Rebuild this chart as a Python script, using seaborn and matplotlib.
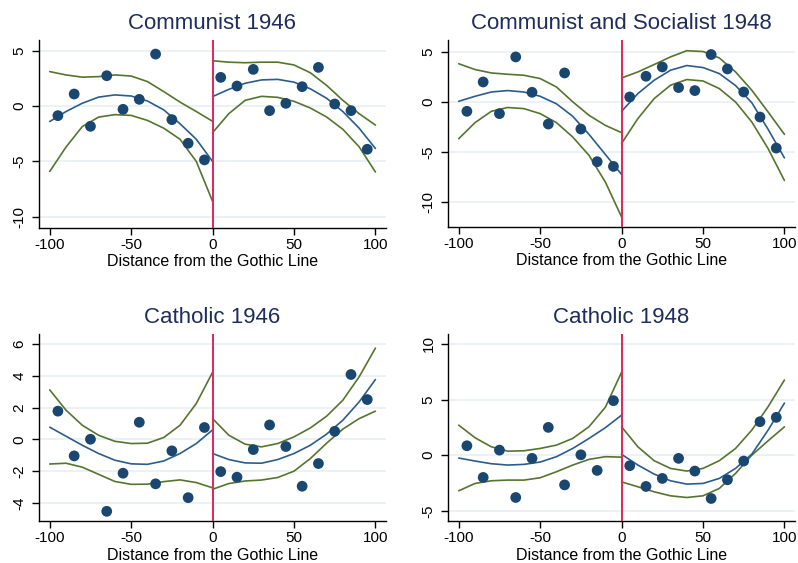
import numpy as np
import pandas as pd
import matplotlib
matplotlib.use("Agg")
import matplotlib.pyplot as plt
import seaborn as sns

# ---------------- data ----------------
bins_left = [-95, -85, -75, -65, -55, -45, -35, -25, -15, -5]
bins_right = [5, 15, 25, 35, 45, 55, 65, 75, 85, 95]
grid_left = [-100, -90, -80, -70, -60, -50, -40, -30, -20, -10, 0]
grid_right = [0, 10, 20, 30, 40, 50, 60, 70, 80, 90, 100]

titles = ["Communist 1946", "Communist and Socialist 1948", "Catholic 1946", "Catholic 1948"]
xlabel = "Distance from the Gothic Line"
x_ticks = [-100, -50, 0, 50, 100]
y_ticks = [[-10, -5, 0, 5], [-10, -5, 0, 5], [-4, -2, 0, 2, 4, 6], [-5, 0, 5, 10]]
y_limits = [(-11.0, 5.95), (-12.5, 6.17), (-5.14, 6.64), (-5.9, 10.88)]

# Communist 1946
com46_pts_left = [-0.87, 1.08, -1.83, 2.73, -0.30, 0.60, 4.68, -1.23, -3.36, -4.86]
com46_pts_right = [2.58, 1.80, 3.30, -0.42, 0.24, 1.74, 3.48, 0.18, -0.42, -3.90]
com46_fit_left = [-1.40, -0.50, 0.25, 0.80, 1.00, 0.90, 0.45, -0.35, -1.60, -3.00, -5.00]
com46_up_left = [3.10, 2.80, 2.60, 2.65, 2.80, 2.70, 2.20, 1.30, 0.35, -0.50, -1.38]
com46_lo_left = [-5.90, -3.70, -1.85, -1.00, -0.78, -0.85, -1.30, -2.00, -3.00, -5.00, -8.60]
com46_fit_right = [0.85, 1.50, 2.05, 2.35, 2.40, 2.15, 1.55, 0.70, -0.50, -2.00, -3.83]
com46_up_right = [4.08, 3.95, 3.90, 3.95, 3.95, 3.70, 3.00, 1.86, 0.51, -0.69, -1.72]
com46_lo_right = [-2.40, -0.69, 0.51, 0.87, 0.78, 0.42, -0.18, -0.99, -2.10, -3.68, -5.95]

# Communist and Socialist 1948
cs48_pts_left = [-0.95, 1.98, -1.18, 4.48, 0.95, -2.22, 2.88, -2.72, -5.98, -6.45]
cs48_pts_right = [0.48, 2.55, 3.48, 1.42, 1.12, 4.72, 3.28, 0.98, -1.52, -4.62]
cs48_fit_left = [0.05, 0.55, 0.98, 1.12, 0.98, 0.55, -0.20, -1.45, -3.25, -5.25, -7.25]
cs48_up_left = [3.80, 3.22, 2.88, 2.75, 2.65, 2.32, 1.48, 0.00, -1.35, -2.35, -3.08]
cs48_lo_left = [-3.68, -2.08, -0.95, -0.57, -0.68, -1.18, -2.08, -3.52, -5.35, -8.00, -11.50]
cs48_fit_right = [-0.95, 0.82, 2.15, 3.15, 3.62, 3.42, 2.82, 1.62, -0.10, -2.75, -5.60]
cs48_up_right = [2.38, 2.98, 3.72, 4.48, 5.10, 5.02, 4.38, 2.98, 1.15, -1.02, -3.25]
cs48_lo_right = [-4.15, -1.68, 0.32, 1.65, 2.22, 2.08, 1.32, -0.02, -2.02, -4.68, -7.85]

# Catholic 1946
cat46_pts_left = [1.78, -1.04, 0.01, -4.53, -2.13, 1.08, -2.80, -0.72, -3.67, 0.75]
cat46_pts_right = [-2.03, -2.38, -0.64, 0.91, -0.45, -2.95, -1.52, 0.51, 4.09, 2.51]
cat46_fit_left = [0.77, 0.20, -0.37, -0.89, -1.31, -1.54, -1.57, -1.36, -0.89, -0.26, 0.60]
cat46_up_left = [3.12, 1.84, 0.89, 0.26, -0.12, -0.26, -0.24, 0.12, 0.89, 2.26, 4.23]
cat46_lo_left = [-1.55, -1.50, -1.75, -2.20, -2.65, -2.83, -2.82, -2.66, -2.55, -2.72, -3.05]
cat46_fit_right = [-0.89, -1.27, -1.48, -1.50, -1.27, -0.89, -0.37, 0.33, 1.21, 2.36, 3.77]
cat46_up_right = [1.31, 0.26, -0.30, -0.47, -0.26, 0.16, 0.72, 1.46, 2.47, 3.94, 5.75]
cat46_lo_right = [-3.14, -2.78, -2.62, -2.56, -2.40, -2.00, -1.21, -0.24, 0.65, 1.31, 1.78]

# Catholic 1948
cat48_pts_left = [0.85, -1.99, 0.46, -3.79, -0.28, 2.50, -2.66, 0.04, -1.36, 4.90]
cat48_pts_right = [-0.94, -2.80, -2.08, -0.28, -1.42, -3.88, -2.20, -0.52, 3.01, 3.40]
cat48_fit_left = [-0.25, -0.52, -0.76, -0.88, -0.82, -0.61, -0.13, 0.61, 1.51, 2.47, 3.60]
cat48_up_left = [2.70, 1.57, 0.76, 0.37, 0.40, 0.61, 0.91, 1.51, 2.56, 4.30, 7.45]
cat48_lo_left = [-3.19, -2.53, -2.29, -2.23, -2.23, -2.02, -1.48, -0.88, -0.37, -0.13, -0.17]
cat48_fit_right = [0.08, -0.88, -1.69, -2.29, -2.59, -2.53, -2.08, -1.18, 0.10, 2.26, 4.68]
cat48_up_right = [2.55, 0.76, -0.49, -1.18, -1.42, -1.18, -0.49, 0.61, 2.26, 4.36, 6.75]
cat48_lo_right = [-2.39, -2.83, -3.28, -3.64, -3.79, -3.64, -2.98, -1.63, 0.01, 1.30, 2.55]

panels = [
    (com46_pts_left, com46_pts_right, com46_fit_left, com46_up_left, com46_lo_left,
     com46_fit_right, com46_up_right, com46_lo_right),
    (cs48_pts_left, cs48_pts_right, cs48_fit_left, cs48_up_left, cs48_lo_left,
     cs48_fit_right, cs48_up_right, cs48_lo_right),
    (cat46_pts_left, cat46_pts_right, cat46_fit_left, cat46_up_left, cat46_lo_left,
     cat46_fit_right, cat46_up_right, cat46_lo_right),
    (cat48_pts_left, cat48_pts_right, cat48_fit_left, cat48_up_left, cat48_lo_left,
     cat48_fit_right, cat48_up_right, cat48_lo_right),
]

# ---------------- style ----------------
sns.set_theme(style="white")
plt.rcParams["font.family"] = ["Liberation Sans", "DejaVu Sans"]

NAVY = "#1a476f"
FITBLUE = "#2b5d8c"
GREEN = "#55752f"
RED = "#e0245a"
TITLE_C = "#1f2d5c"
GRID_C = "#e6eef1"

fig = plt.figure(figsize=(7.98, 5.63), dpi=100, facecolor="white")
W, H = 798.0, 563.0
boxes = [(39, 40, 386, 228), (448, 40, 795, 227), (39, 334, 386, 521), (448, 334, 795, 521)]

for i, (box, data) in enumerate(zip(boxes, panels)):
    l, t, r, b = box
    ax = fig.add_axes([l / W, 1 - b / H, (r - l) / W, (b - t) / H])
    pl, pr, fl, ul, ll, fr, ur, lr = data

    for yv in y_ticks[i]:
        ax.axhline(yv, color=GRID_C, lw=1.1, zorder=0)

    for xs, ys, col in [(grid_left, ul, GREEN), (grid_left, ll, GREEN), (grid_left, fl, FITBLUE),
                        (grid_right, ur, GREEN), (grid_right, lr, GREEN), (grid_right, fr, FITBLUE)]:
        sns.lineplot(x=xs, y=ys, color=col, lw=1.2, ax=ax, zorder=2)

    pts = pd.DataFrame({"x": bins_left + bins_right, "y": pl + pr})
    sns.scatterplot(data=pts, x="x", y="y", color=NAVY, s=60, edgecolor="none", ax=ax, zorder=3)

    ax.axvline(0, color=RED, lw=1.4, zorder=4)

    ax.set_xlim(-106.6, 106.5)
    ax.set_ylim(*y_limits[i])
    ax.set_xticks(x_ticks)
    ax.set_yticks(y_ticks[i])
    ax.set_xticklabels([str(v) for v in x_ticks])
    ax.set_yticklabels([str(v) for v in y_ticks[i]], rotation=90, va="center")
    ax.tick_params(axis="both", direction="out", length=5, width=1, color="black",
                   labelsize=11, labelcolor="black", bottom=True, left=True)
    ax.tick_params(axis="x", pad=2)
    ax.tick_params(axis="y", pad=4)
    for side in ["top", "right"]:
        ax.spines[side].set_visible(False)
    for side in ["left", "bottom"]:
        ax.spines[side].set_color("black")
        ax.spines[side].set_linewidth(1.0)
    ax.set_xlabel(xlabel, fontsize=11.5, color="black", labelpad=2)
    ax.set_ylabel("")
    ax.set_title(titles[i], fontsize=16, color=TITLE_C, pad=8)
    ax.grid(False)

fig.savefig("out.png", dpi=100, facecolor="white")
